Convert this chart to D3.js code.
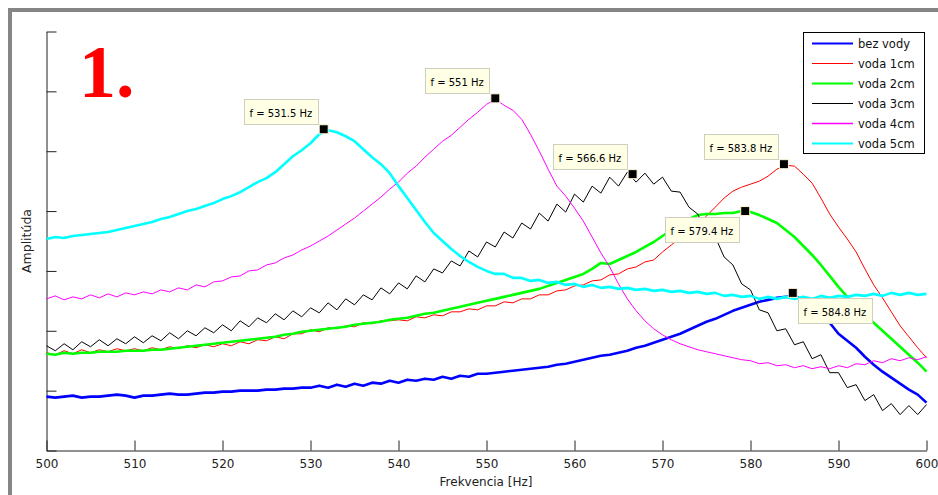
<!DOCTYPE html>
<html><head><meta charset="utf-8">
<script src="https://cdn.jsdelivr.net/npm/d3@7"></script>
<style>body{margin:0;background:#fff}svg{display:block}</style>
</head><body>
<svg id="chart" width="938" height="495"></svg>
<script>
// ---------- DATA ----------
const freqs = d3.range(500, 601, 1); // Hz, 1 Hz grid
const seriesNames = ["bez vody", "voda 1cm", "voda 2cm", "voda 3cm", "voda 4cm", "voda 5cm"];
const bezVody = [54,53,54,55,53,54,54,55,56,55,
 53,55,55,56,57,56,56,57,58,58,
 59,59,60,60,60,61,61,62,62,63,
 63,65,63,66,64,67,65,68,67,70,
 68,71,70,72,71,74,72,75,74,77,
 77,78,79,80,81,82,83,84,86,87,
 89,91,93,95,96,98,100,103,105,108,
 111,114,117,121,125,129,132,136,140,143,
 146,149,151,153,154,155,151,144,136,128,
 117,110,103,94,86,79,73,67,61,56,
 48];
const voda1 = [98,96,100,97,101,98,101,99,102,100,
 102,100,103,101,104,102,105,103,106,104,
 107,105,109,107,111,110,114,112,117,117,
 121,119,123,122,125,124,128,127,130,130,
 131,130,134,133,136,135,139,139,142,141,
 145,145,149,148,152,152,156,156,160,161,
 165,166,170,171,176,177,182,184,189,191,
 199,206,213,220,227,235,244,253,260,264,
 267,270,275,282,286,285,277,268,253,237,
 224,212,199,182,166,153,139,125,114,103,
 93];
const voda2 = [97,96,98,97,98,98,99,99,99,100,
 100,100,101,101,102,103,104,105,106,107,
 108,109,110,111,112,113,114,116,117,119,
 120,121,122,123,124,126,127,128,129,131,
 132,133,135,137,138,140,142,144,146,148,
 150,152,154,156,158,160,162,165,168,171,
 174,177,182,188,187,191,195,199,204,209,
 215,221,227,232,236,237,237,238,238,240,
 239,236,232,228,221,214,205,196,186,175,
 164,154,146,137,128,120,112,104,96,88,
 79];
const voda3 = [105,100,107,101,109,104,111,105,112,107,
 114,108,115,110,118,112,120,115,123,118,
 126,120,130,124,133,128,137,131,140,134,
 143,138,148,141,152,146,156,151,163,157,
 168,162,175,169,182,178,190,185,200,194,
 209,204,219,213,228,222,238,230,247,239,
 257,249,265,258,274,265,279,269,278,267,
 274,260,259,244,237,220,214,194,186,167,
 161,141,138,120,122,106,109,92,96,78,
 78,63,66,50,56,40,47,36,45,36,
 46];
const voda4 = [152,155,151,154,152,156,153,157,154,158,
 156,159,157,161,159,163,161,166,164,169,
 170,174,175,180,181,186,188,193,196,201,
 205,210,215,221,227,233,240,247,254,262,
 269,278,285,294,302,310,316,324,332,339,
 347,352,346,341,332,317,300,282,265,255,
 243,230,214,198,184,167,152,140,130,122,
 116,111,107,104,101,99,97,95,93,91,
 90,87,88,85,86,83,85,82,84,82,
 85,83,87,86,90,88,92,90,93,91,
 94];
const voda5 = [212,214,213,215,216,217,218,219,221,223,
 225,227,229,232,234,237,240,242,245,248,
 252,255,259,264,269,273,279,287,295,301,
 308,317,321,319,315,310,302,294,287,278,
 265,253,241,229,218,210,202,195,189,184,
 180,177,177,173,173,170,171,168,169,166,
 167,164,166,163,164,162,163,161,162,160,
 161,159,160,158,159,157,158,155,156,154,
 155,152,154,152,154,152,154,152,155,153,
 155,154,156,155,157,155,158,156,158,156,
 157];
const peakFreqs = [584.8, 583.8, 579.4, 566.6, 551, 531.5];
const peakAmps  = [158, 287, 240, 277, 353, 322];
const peakLabels = ["f = 584.8 Hz", "f = 583.8 Hz", "f = 579.4 Hz", "f = 566.6 Hz", "f = 551 Hz", "f = 531.5 Hz"];
const xTicks = [500, 510, 520, 530, 540, 550, 560, 570, 580, 590, 600];
const yTicks = [0, 60, 120, 180, 240, 300, 360, 420];

// ---------- STYLE ----------
const seriesValues = [bezVody, voda1, voda2, voda3, voda4, voda5];
const colors = ["#0000ff", "#ff0000", "#00ff00", "#000000", "#ff00ff", "#00ffff"];
const widths = [2.6, 1, 2.6, 1, 1, 2.6];
const legendWidths = [2, 1, 2, 1, 1.5, 2];
const tipAnchor = ["se", "nw", "sw", "nw", "nw", "nw"];
const FONT = "'DejaVu Sans', Verdana, sans-serif";

const svg = d3.select("#chart");
svg.append("rect").attr("width", 938).attr("height", 495).attr("fill", "#fff");
// window frame (top + left)
svg.append("rect").attr("x", 8).attr("y", 8).attr("width", 930).attr("height", 4).attr("fill", "#858585");
svg.append("rect").attr("x", 8).attr("y", 8).attr("width", 4).attr("height", 487).attr("fill", "#858585");

const x = d3.scaleLinear().domain([500, 600]).range([46.5, 926.5]);
const y = d3.scaleLinear().domain([0, 420]).range([450.5, 31.5]);

// axes
const gx = svg.append("g").attr("transform", "translate(0,450.5)")
  .call(d3.axisBottom(x).tickValues(xTicks).tickFormat(d3.format("d")).tickSize(-10).tickSizeOuter(0).tickPadding(9));
gx.selectAll("text").attr("font-family", FONT).attr("font-size", 12).attr("fill", "#222");
gx.selectAll("line,path").attr("stroke", "#222");

const gy = svg.append("g").attr("transform", "translate(46.5,0)")
  .call(d3.axisLeft(y).tickValues(yTicks).tickFormat("").tickSize(-10).tickSizeOuter(0));
gy.selectAll("line,path").attr("stroke", "#222");

svg.append("text").attr("x", 486).attr("y", 486).attr("text-anchor", "middle")
  .attr("font-family", FONT).attr("font-size", 12).attr("fill", "#222").text("Frekvencia [Hz]");
svg.append("text").attr("transform", "translate(31,241) rotate(-90)").attr("text-anchor", "middle")
  .attr("font-family", FONT).attr("font-size", 12.5).attr("fill", "#222").text("Amplitúda");

// lines
const line = d3.line().x((d, i) => x(freqs[i])).y(d => y(d));
seriesValues.forEach((vals, s) => {
  svg.append("path").datum(vals).attr("d", line)
    .attr("fill", "none").attr("stroke", colors[s]).attr("stroke-width", widths[s])
    .attr("stroke-linejoin", "round");
});

// "1." label
svg.append("text").attr("x", 79).attr("y", 97)
  .attr("font-family", "'Liberation Serif', 'Times New Roman', serif").attr("font-weight", "bold")
  .attr("font-size", 74).attr("fill", "#ff0000").text("1.");

// data tips
peakFreqs.forEach((f, s) => {
  const mx = x(f), my = y(peakAmps[s]);
  const g = svg.append("g");
  const t = g.append("text").attr("font-family", FONT).attr("font-size", 10).attr("fill", "#000").text(peakLabels[s]);
  const tw = t.node().getComputedTextLength();
  const bw = Math.round(tw + 11), bh = 25;
  let bx, by;
  if (tipAnchor[s] === "nw") { bx = mx - 6 - bw; by = my - 5 - bh; }
  else if (tipAnchor[s] === "sw") { bx = mx - 6 - bw; by = my + 6; }
  else { bx = mx + 5; by = my + 5; }
  bx = Math.round(bx) + 0.5; by = Math.round(by) + 0.5;
  g.insert("rect", "text").attr("x", bx).attr("y", by).attr("width", bw).attr("height", bh)
    .attr("fill", "#ffffe6").attr("stroke", "#cfcfc0").attr("stroke-width", 1);
  t.attr("x", bx + 5).attr("y", by + 17);
  svg.append("rect").attr("x", mx - 4.5).attr("y", my - 4.5).attr("width", 9).attr("height", 9)
    .attr("fill", "#000").attr("stroke", "#fff8d8").attr("stroke-width", 1);
});

// legend
const lg = svg.append("g");
lg.append("rect").attr("x", 803.5).attr("y", 32.5).attr("width", 121).attr("height", 121)
  .attr("fill", "#fff").attr("stroke", "#000").attr("stroke-width", 1);
seriesNames.forEach((name, s) => {
  const cy = 43.5 + s * 20;
  lg.append("line").attr("x1", 812).attr("x2", 853).attr("y1", cy).attr("y2", cy)
    .attr("stroke", colors[s]).attr("stroke-width", legendWidths[s]);
  lg.append("text").attr("x", 858).attr("y", cy + 4.5).attr("font-family", FONT)
    .attr("font-size", 11.5).attr("fill", "#111").text(name);
});
</script>
</body></html>
